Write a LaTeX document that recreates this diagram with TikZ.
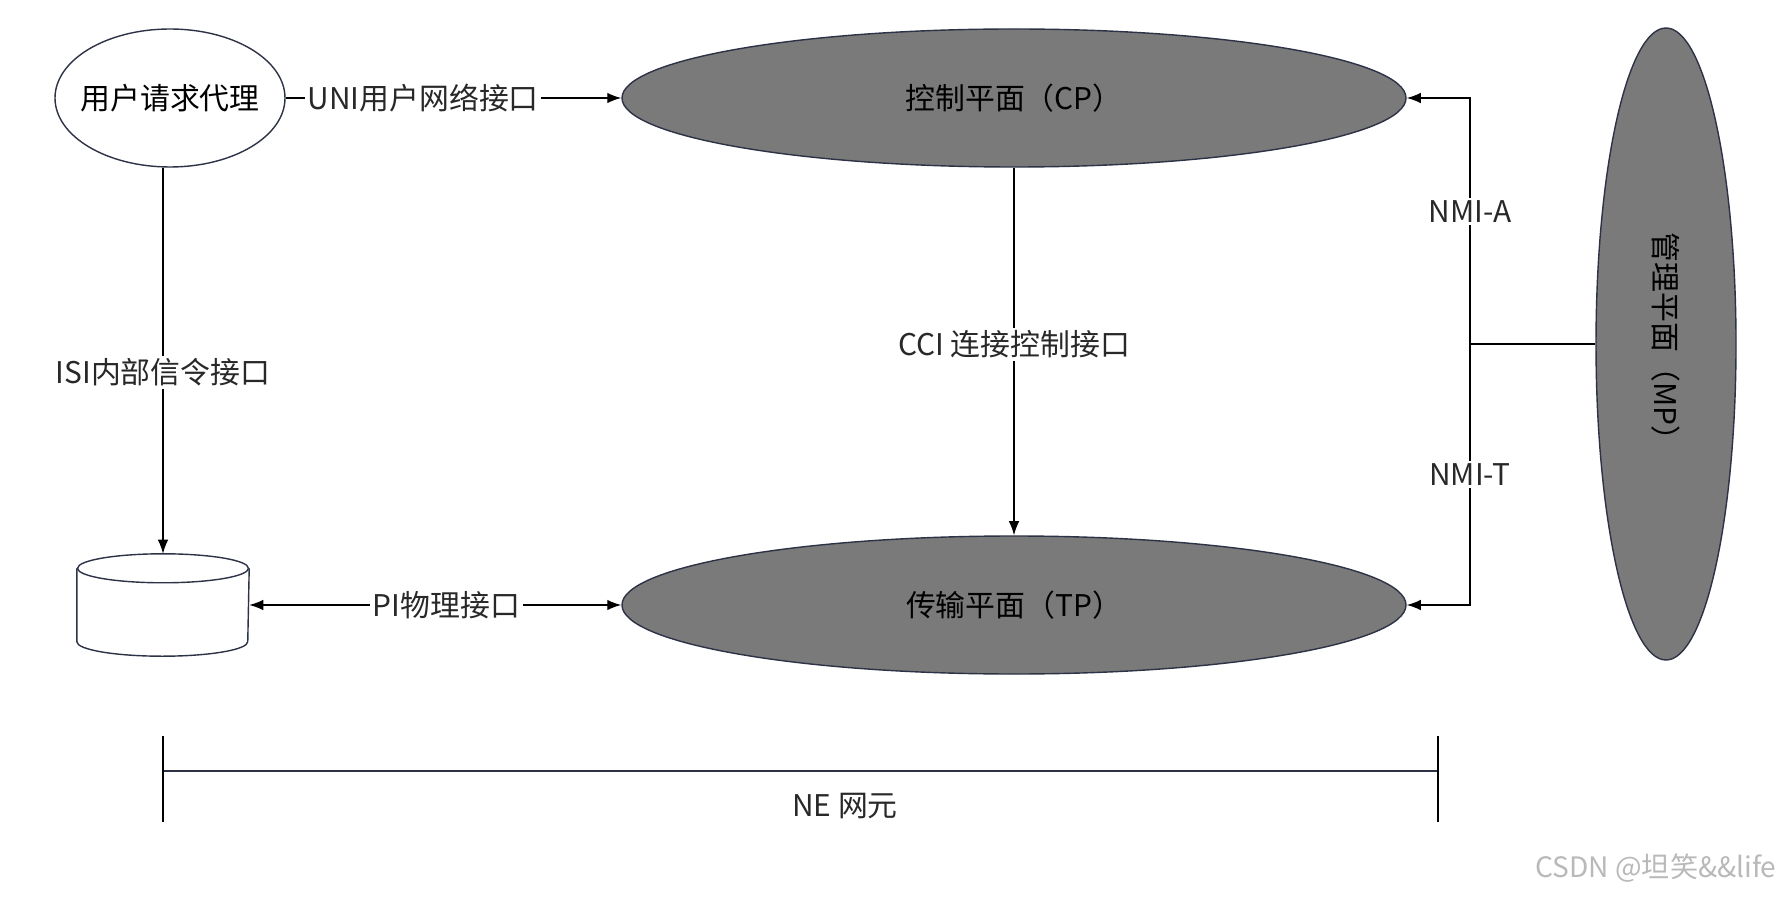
\documentclass[tikz,border=0pt]{standalone}
\usepackage{fontspec}
\setmainfont{Noto Sans CJK SC}
\usetikzlibrary{arrows.meta, positioning, shapes.geometric}

\definecolor{planefill}{RGB}{122,122,122}
\definecolor{planeedge}{RGB}{45,50,70}
\definecolor{txtgray}{RGB}{40,40,40}
\definecolor{wmgray}{RGB}{185,185,185}
\newcommand{\px}{0.02cm}

\tikzset{
  plane/.style={ellipse, draw=planeedge, fill=planefill, inner sep=0pt, line width=0.8pt},
  agent/.style={ellipse, draw=planeedge, fill=white, inner sep=0pt, line width=0.8pt},
  store/.style={draw=planeedge, line width=0.8pt},
  lbl/.style={fill=white, inner sep=1.5pt, text=txtgray},
  link/.style={-{Latex[length=8pt,width=6pt]}},
}

\begin{document}
\begin{tikzpicture}[x=\px, y=-\px, font=\fontsize{17}{20}\selectfont, line width=0.8pt]
  \useasboundingbox (0,0) rectangle (1790,898);

  % the planes
  \node[agent, minimum width={230*\px}, minimum height={138*\px}, label={center:用户请求代理}] (agent) at (170,98) {};
  \node[plane, minimum width={784*\px}, minimum height={138*\px}] (cp) at (1014,98) {控制平面（CP）};
  \node[plane, minimum width={784*\px}, minimum height={138*\px}] (tp) at (1014,605) {传输平面（TP）};
  \node[plane, minimum width={140*\px}, minimum height={632*\px}] (mp) at (1666,344) {\rotatebox{-90}{管理平面（MP）}};

  % store
  \node[minimum width={171*\px}, minimum height={101*\px}, inner sep=0pt] (db) at (163,605) {};
  \draw[store] ([yshift=-0.29cm]db.north) ellipse [x radius=1.71cm, y radius=0.29cm];
  \draw[store] ([yshift=-0.29cm]db.north west) -- ([yshift=0.29cm]db.south west)
    arc[start angle=180, end angle=360, x radius=1.71cm, y radius=0.29cm] -- ([yshift=-0.29cm]db.north east);

  % interfaces
  \draw[link] (agent.east) -- node[lbl, pos=0.41] (uni) {UNI用户网络接口} (cp.west);
  \draw[link] (agent.south -| db.north) -- node[lbl, pos=0.53] (isi) {ISI内部信令接口} (db.north);
  \draw[link] (cp.south) -- node[lbl, pos=0.48] (cci) {CCI 连接控制接口} (tp.north);
  \draw[{Latex[length=8pt,width=6pt]}-{Latex[length=8pt,width=6pt]}] (db.east) -- node[lbl, pos=0.53] (pi) {PI物理接口} (tp.west);

  \coordinate (nmi) at (1470,344);
  \draw (mp.west) -- (nmi);
  \draw[link] (nmi) |- node[lbl, pos=0.27] (nmia) {NMI-A} (cp.east);
  \draw[link] (nmi) |- node[lbl, pos=0.25] (nmit) {NMI-T} (tp.east);

  % NE bracket
  \coordinate (neL) at (163,771);
  \coordinate (neR) at (1438,771);
  \draw[line width=1.3pt, planeedge] (neL) -- (neR);
  \draw (neL) ++(0,-35) -- ++(0,86);
  \draw (neR) ++(0,-35) -- ++(0,86);
  \node[text=txtgray] (ne) at (845,806) {NE 网元};

  \node[anchor=east, text=wmgray, font=\fontsize{16}{18}\selectfont] (wm) at (1783,868) {CSDN @坦笑\&\&life};
\end{tikzpicture}
\end{document}
